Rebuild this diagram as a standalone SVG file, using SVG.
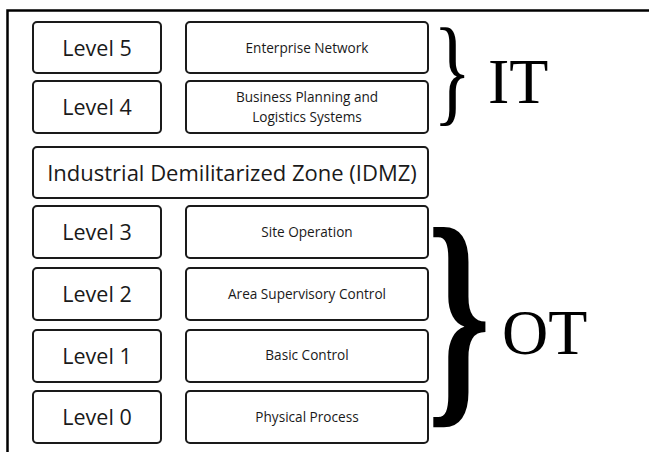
<svg xmlns="http://www.w3.org/2000/svg" width="649" height="452" viewBox="0 0 649 452">
  <style>
    .box { fill: #ffffff; stroke: #1a1a1a; stroke-width: 2; }
    .lvl { font-family: "Open Sans", "Noto Sans", sans-serif; font-size: 21.5px; fill: #1a1a1a; text-anchor: middle; }
    .desc { font-family: "Open Sans", "Noto Sans", sans-serif; font-size: 13.6px; fill: #1a1a1a; text-anchor: middle; }
    .zone { font-family: "Open Sans", "Noto Sans", sans-serif; font-size: 22px; fill: #1a1a1a; text-anchor: middle; }
    .big { font-family: "Liberation Serif", "Times New Roman", serif; font-size: 64px; fill: #000000; }
    .brace { font-family: "Liberation Serif", "Times New Roman", serif; fill: #000000; }
  </style>

  <rect width="649" height="452" fill="#ffffff"/>
  <!-- outer frame (open at right and bottom) -->
  <path d="M7.5 452 V10.5 H649" fill="none" stroke="#000000" stroke-width="2.5"/>

  <g id="level5">
    <rect class="box" x="33" y="22" width="128" height="51" rx="4"/>
    <text class="lvl" x="97" y="55.5">Level 5</text>
  </g>
  <g id="enterprise-network">
    <rect class="box" x="186" y="22" width="242" height="51" rx="4"/>
    <text class="desc" x="307" y="52.5">Enterprise Network</text>
  </g>

  <g id="level4">
    <rect class="box" x="33" y="81" width="128" height="52" rx="4"/>
    <text class="lvl" x="97" y="114.5">Level 4</text>
  </g>
  <g id="business-planning">
    <rect class="box" x="186" y="81" width="242" height="52" rx="4"/>
    <text class="desc" x="307" y="102">Business Planning and</text>
    <text class="desc" x="307" y="121.5">Logistics Systems</text>
  </g>

  <g id="idmz">
    <rect class="box" x="33" y="147" width="395" height="51" rx="4"/>
    <text class="zone" x="232" y="181">Industrial Demilitarized Zone (IDMZ)</text>
  </g>

  <g id="level3">
    <rect class="box" x="33" y="206" width="128" height="52" rx="4"/>
    <text class="lvl" x="97" y="240">Level 3</text>
  </g>
  <g id="site-operation">
    <rect class="box" x="186" y="206" width="242" height="52" rx="4"/>
    <text class="desc" x="307" y="236.5">Site Operation</text>
  </g>

  <g id="level2">
    <rect class="box" x="33" y="268" width="128" height="52" rx="4"/>
    <text class="lvl" x="97" y="302">Level 2</text>
  </g>
  <g id="area-supervisory">
    <rect class="box" x="186" y="268" width="242" height="52" rx="4"/>
    <text class="desc" x="307" y="298.5">Area Supervisory Control</text>
  </g>

  <g id="level1">
    <rect class="box" x="33" y="330" width="128" height="52" rx="4"/>
    <text class="lvl" x="97" y="363.5">Level 1</text>
  </g>
  <g id="basic-control">
    <rect class="box" x="186" y="330" width="242" height="52" rx="4"/>
    <text class="desc" x="307" y="360">Basic Control</text>
  </g>

  <g id="level0">
    <rect class="box" x="33" y="391" width="128" height="52" rx="4"/>
    <text class="lvl" x="97" y="424.5">Level 0</text>
  </g>
  <g id="physical-process">
    <rect class="box" x="186" y="391" width="242" height="52" rx="4"/>
    <text class="desc" x="307" y="421.5">Physical Process</text>
  </g>

  <g id="it-group">
    <text class="brace" transform="translate(433 110) scale(0.68 1)" font-size="118">}</text>
    <text class="big" x="488" y="103">IT</text>
  </g>

  <g id="ot-group">
    <text class="brace" transform="translate(427 395) scale(0.67 1)" font-size="241" font-weight="bold">}</text>
    <text class="big" x="502" y="354">OT</text>
  </g>
</svg>
